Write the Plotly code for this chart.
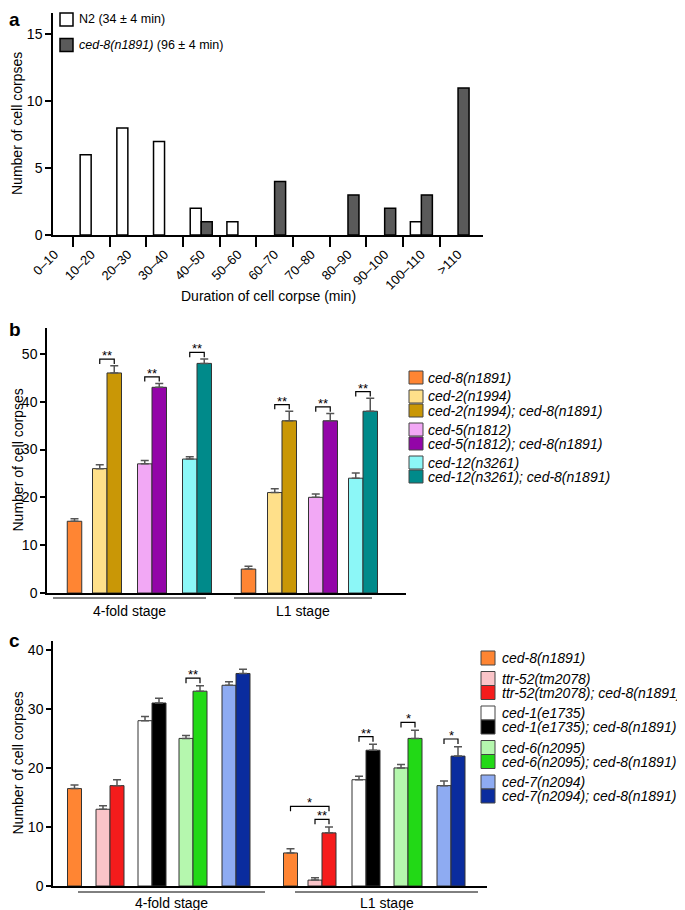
import plotly.graph_objects as go

PAGE_W, PAGE_H = 685, 910
OX, OY = 8, 8                      # the page body margin that surrounds the plot div
W, H = PAGE_W - OX, PAGE_H - OY    # figure size that fits the window exactly
FONT = "Liberation Sans, Arial, Helvetica, sans-serif"

# ---------------- data: panel a ----------------
duration_bins = ["0–10", "10–20", "20–30", "30–40", "40–50", "50–60",
                 "60–70", "70–80", "80–90", "90–100", "100–110", ">110"]
n2_counts = [0, 6, 8, 7, 2, 1, 0, 0, 0, 0, 1, 0]
ced8_counts = [0, 0, 0, 0, 1, 0, 4, 0, 3, 2, 3, 11]
a_names = ["N2 (34 ± 4 min)", "<i>ced-8(n1891)</i> (96 ± 4 min)"]
a_colors = ["#ffffff", "#5a5a5a"]

# ---------------- data: panel b ----------------
stages = ["4-fold stage", "L1 stage"]
b_genotypes = ["ced-8(n1891)", "ced-2(n1994)", "ced-2(n1994); ced-8(n1891)",
               "ced-5(n1812)", "ced-5(n1812); ced-8(n1891)",
               "ced-12(n3261)", "ced-12(n3261); ced-8(n1891)"]
b_colors = ["#ff8533", "#ffe08a", "#c99706", "#f2a8f5", "#9305a8", "#8cf7f7", "#008a8a"]
b_fourfold = [15, 26, 46, 27, 43, 28, 48]
b_fourfold_sem = [0.5, 0.8, 1.5, 0.7, 0.8, 0.5, 0.9]
b_l1 = [5, 21, 36, 20, 36, 24, 38]
b_l1_sem = [0.6, 0.8, 2.0, 0.7, 1.5, 1.1, 2.7]
b_group = [0, 1, 1, 2, 2, 3, 3]
b_sig = [(0, 1, 2, "**", 0), (0, 3, 4, "**", 0), (0, 5, 6, "**", 0),
         (1, 1, 2, "**", 0), (1, 3, 4, "**", 0), (1, 5, 6, "**", 0)]

# ---------------- data: panel c ----------------
c_genotypes = ["ced-8(n1891)", "ttr-52(tm2078)", "ttr-52(tm2078); ced-8(n1891)",
               "ced-1(e1735)", "ced-1(e1735); ced-8(n1891)",
               "ced-6(n2095)", "ced-6(n2095); ced-8(n1891)",
               "ced-7(n2094)", "ced-7(n2094); ced-8(n1891)"]
c_colors = ["#ff8533", "#fac4c8", "#f51c1c", "#ffffff", "#000000",
            "#b5f7ae", "#22d916", "#8eabf2", "#0a2c9e"]
c_fourfold = [16.5, 13, 17, 28, 31, 25, 33, 34, 36]
c_fourfold_sem = [0.6, 0.6, 1.0, 0.7, 0.8, 0.5, 0.9, 0.6, 0.7]
c_l1 = [5.6, 1.0, 9, 18, 23, 20, 25, 17, 22]
c_l1_sem = [0.7, 0.4, 1.0, 0.6, 1.0, 0.6, 1.4, 0.8, 1.6]
c_group = [0, 1, 1, 2, 2, 3, 3, 4, 4]
c_sig = [(0, 5, 6, "**", 0), (1, 1, 2, "**", 0), (1, 0, 2, "*", 1),
         (1, 3, 4, "**", 0), (1, 5, 6, "*", 0), (1, 7, 8, "*", 0)]

# ---------------- geometry (page pixels) ----------------
def px(x):
    return (x - OX) / W


def py(y):
    return 1 - (y - OY) / H


GEOM = {
    "a": dict(x=(53, 483), y=(13, 235)),
    "b": dict(x=(47, 406), y=(328, 593), ymax=55.4, ydtick=10,
              slots=[[27.5, 60, 105, 150], [201.5, 235, 276, 316]], bw=14.5,
              lines=[(6, 159), (187, 325)], line_y=598, label_y=611,
              sig_off=1.4, sig_drop=1.0, sig_step=2.2,
              leg_box=(409, 423), leg_text=426, leg_y0=377.5, leg_step=14,
              leg_extra=5.0, leg_h=13, leg_font=14),
    "c": dict(x=(53, 487), y=(641, 886), ymax=41.5, ydtick=10,
              slots=[[21.5, 57, 99, 140, 183], [237.5, 269, 313, 355, 398]], bw=14,
              lines=[(25, 212), (242, 425)], line_y=892, label_y=903,
              sig_off=1.3, sig_drop=0.85, sig_step=2.2,
              leg_box=(481, 495), leg_text=500, leg_y0=658, leg_step=14,
              leg_extra=6.5, leg_h=14, leg_font=14),
}

fig = go.Figure()
shapes = []
annotations = []

axis_common = dict(showgrid=False, zeroline=False, showline=True, linecolor="black",
                   linewidth=1.5, tickcolor="black", tickwidth=1.5, automargin=False,
                   tickfont=dict(family=FONT, size=14, color="black"), fixedrange=True)

# ---------------- panel a ----------------
bw_a = 0.3
for vals, name, color, off in zip([n2_counts, ced8_counts], a_names, a_colors, [-bw_a, 0]):
    fig.add_trace(go.Bar(
        x=list(range(len(duration_bins))), y=[v if v else None for v in vals],
        name=name, width=bw_a, offset=off, xaxis="x", yaxis="y", showlegend=False,
        marker=dict(color=color, line=dict(color="black", width=1.5)),
    ))

layout_axes = {}
layout_axes["xaxis"] = dict(
    axis_common, domain=[px(53), px(483)], anchor="y", range=[-0.04, 11.68],
    tickmode="array", tickvals=list(range(len(duration_bins))), ticktext=duration_bins,
    ticks="outside", ticklen=5, tickcolor="rgba(0,0,0,0)", tickangle=-45,
    tickfont=dict(family=FONT, size=13, color="black"),
    minor=dict(tickmode="array", tickvals=[i + 0.5 for i in range(len(duration_bins) - 1)],
               ticks="outside", ticklen=10, tickcolor="black", tickwidth=1.5),
)
layout_axes["yaxis"] = dict(
    axis_common, domain=[py(235), py(13)], anchor="x", range=[0, 16.6],
    tickmode="array", tickvals=[0, 5, 10, 15], ticks="outside", ticklen=6,
)

# panel a legend (drawn by hand)
for i, (name, color) in enumerate(zip(a_names, a_colors)):
    yc = 19.5 + i * 25.5
    shapes.append(dict(type="rect", xref="paper", yref="paper",
                       x0=px(60), x1=px(73), y0=py(yc - 6.5), y1=py(yc + 6.5),
                       fillcolor=color, line=dict(color="black", width=1.5)))
    annotations.append(dict(text=name, xref="paper", yref="paper", x=px(77), y=py(yc),
                            xanchor="left", yanchor="middle", showarrow=False,
                            font=dict(family=FONT, size=12.5, color="black")))

annotations.append(dict(text="Duration of cell corpse (min)", xref="paper", yref="paper",
                        x=px(268), y=py(296), xanchor="center", yanchor="middle",
                        showarrow=False, font=dict(family=FONT, size=14, color="black")))


# ---------------- panels b and c ----------------
def bar_panel(key, xa, ya, genotypes, colors, vals, sems, groups, sigs):
    g = GEOM[key]
    bw = g["bw"]
    sides = []
    for i, grp in enumerate(groups):
        if groups.count(grp) == 1:
            sides.append(0)
        else:
            sides.append(-1 if groups.index(grp) == i else 1)
    offsets = {0: -bw / 2, -1: -bw, 1: 0}
    centers = [[g["slots"][s][groups[i]] + sides[i] * bw / 2 for i in range(len(genotypes))]
               for s in range(len(stages))]
    for i, name in enumerate(genotypes):
        fig.add_trace(go.Bar(
            x=[g["slots"][s][groups[i]] for s in range(len(stages))],
            y=[vals[s][i] for s in range(len(stages))],
            name=name, width=bw, offset=offsets[sides[i]],
            xaxis=xa, yaxis=ya, showlegend=False,
            marker=dict(color=colors[i], line=dict(color="#333333", width=1)),
            error_y=dict(type="data", symmetric=False,
                         array=[sems[s][i] for s in range(len(stages))],
                         arrayminus=[0] * len(stages),
                         color="#555555", thickness=1.5, width=4),
        ))
    # significance brackets
    for s, i, j, label, tier in sigs:
        top = max(vals[s][k] + sems[s][k] for k in range(i, j + 1))
        yb = top + g["sig_off"] + tier * g["sig_step"]
        x1, x2 = centers[s][i], centers[s][j]
        shapes.append(dict(type="path", xref=xa, yref=ya,
                           path=f"M {x1},{yb - g['sig_drop']} L {x1},{yb} L {x2},{yb} L {x2},{yb - g['sig_drop']}",
                           line=dict(color="black", width=1.2)))
        annotations.append(dict(text=label, xref=xa, yref=ya, x=(x1 + x2) / 2, y=yb,
                                xanchor="center", yanchor="bottom", yshift=-6, showarrow=False,
                                font=dict(family=FONT, size=13, color="black")))
    # stage underlines and labels
    for s, stage in enumerate(stages):
        x0, x1 = g["lines"][s]
        shapes.append(dict(type="line", xref=xa, yref="paper", x0=x0, x1=x1,
                           y0=py(g["line_y"]), y1=py(g["line_y"]),
                           line=dict(color="black", width=1)))
        annotations.append(dict(text=stage, xref=xa, yref="paper", x=(x0 + x1) / 2,
                                y=py(g["label_y"]), xanchor="center", yanchor="middle",
                                showarrow=False, font=dict(family=FONT, size=14, color="black")))
    # hand-drawn legend
    for i, name in enumerate(genotypes):
        yc = g["leg_y0"] + i * g["leg_step"] + groups[i] * g["leg_extra"]
        shapes.append(dict(type="rect", xref="paper", yref="paper",
                           x0=px(g["leg_box"][0]), x1=px(g["leg_box"][1]),
                           y0=py(yc - g["leg_h"] / 2), y1=py(yc + g["leg_h"] / 2),
                           fillcolor=colors[i], line=dict(color="#444444", width=1)))
        annotations.append(dict(text=f"<i>{name}</i>", xref="paper", yref="paper",
                                x=px(g["leg_text"]), y=py(yc), xanchor="left", yanchor="middle",
                                showarrow=False,
                                font=dict(family=FONT, size=g["leg_font"], color="black")))
    # axes
    layout_axes[xa.replace("x", "xaxis")] = dict(
        axis_common, domain=[px(g["x"][0]), px(g["x"][1])], anchor=ya,
        range=[0, g["x"][1] - g["x"][0]], showticklabels=False, ticks="")
    layout_axes[ya.replace("y", "yaxis")] = dict(
        axis_common, domain=[py(g["y"][1]), py(g["y"][0])], anchor=xa,
        range=[0, g["ymax"]], tickmode="linear", tick0=0, dtick=g["ydtick"],
        ticks="outside", ticklen=5)


bar_panel("b", "x2", "y2", b_genotypes, b_colors, [b_fourfold, b_l1],
          [b_fourfold_sem, b_l1_sem], b_group, b_sig)
bar_panel("c", "x3", "y3", c_genotypes, c_colors, [c_fourfold, c_l1],
          [c_fourfold_sem, c_l1_sem], c_group, c_sig)

# y-axis titles and panel letters (kept inside the drawable area)
for key in ["a", "b", "c"]:
    y0, y1 = GEOM[key]["y"]
    annotations.append(dict(text="Number of cell corpses", xref="paper", yref="paper",
                            x=px(17), y=py((y0 + y1) / 2), textangle=-90,
                            xanchor="center", yanchor="middle", showarrow=False,
                            font=dict(family=FONT, size=14, color="black")))
letter_pos = {"a": 8, "b": 318, "c": 629}
for letter, ytop in letter_pos.items():
    annotations.append(dict(text=f"<b>{letter}</b>", xref="paper", yref="paper",
                            x=px(8), y=py(ytop), xanchor="left", yanchor="top", borderpad=0,
                            showarrow=False, font=dict(family=FONT, size=19, color="black")))

fig.update_layout(
    width=W, height=H, margin=dict(l=0, r=0, t=0, b=0, autoexpand=False),
    paper_bgcolor="white", plot_bgcolor="white",
    barmode="overlay", showlegend=False,
    font=dict(family=FONT, color="black"),
    shapes=shapes, annotations=annotations,
    **layout_axes,
)

fig.write_html("out.html")
